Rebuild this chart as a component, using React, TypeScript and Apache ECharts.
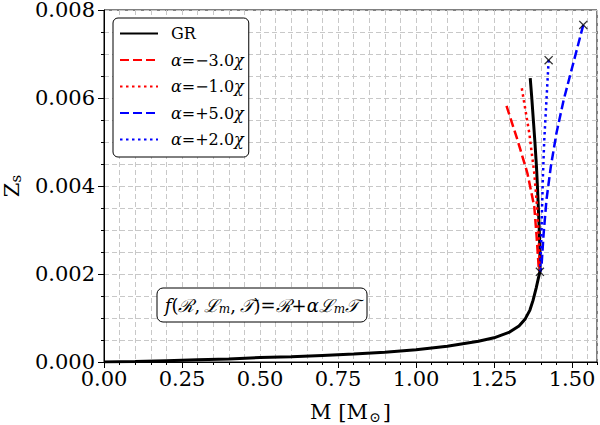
import { useEffect, useRef } from 'react'
import * as echarts from 'echarts'

// GR curve (mass in solar masses vs Z_s)
const grM = [0, 0.1, 0.2, 0.3, 0.4, 0.5, 0.6, 0.7, 0.8, 0.9, 1.0, 1.1, 1.2, 1.25, 1.3, 1.33, 1.35, 1.365, 1.375, 1.385, 1.392, 1.397, 1.397, 1.395, 1.392, 1.389, 1.386, 1.381, 1.376, 1.371, 1.366]
const grZ = [0, 0.00001, 0.00003, 0.00005, 0.00007, 0.0001, 0.00012, 0.00015, 0.00018, 0.00022, 0.00028, 0.00036, 0.00047, 0.00055, 0.00068, 0.00082, 0.00098, 0.00118, 0.0014, 0.00168, 0.0019, 0.00205, 0.0025, 0.003, 0.0035, 0.004, 0.00444, 0.005, 0.0055, 0.006, 0.00645]

// alpha = -3.0 chi (red dashed)
const m3M = [1.29, 1.325, 1.357, 1.379, 1.386, 1.393, 1.397]
const m3Z = [0.00582, 0.00505, 0.00429, 0.00353, 0.0029, 0.00217, 0.00205]

// alpha = -1.0 chi (red dotted)
const m1M = [1.339, 1.363, 1.379, 1.388, 1.394, 1.397]
const m1Z = [0.00622, 0.0052, 0.00429, 0.00353, 0.0027, 0.00205]

// alpha = +5.0 chi (blue dashed)
const p5M = [1.536, 1.501, 1.473, 1.45, 1.432, 1.418, 1.409, 1.402, 1.398]
const p5Z = [0.00766, 0.00671, 0.00595, 0.0052, 0.00444, 0.00368, 0.00292, 0.00217, 0.00205]

// alpha = +2.0 chi (blue dotted)
const p2M = [1.425, 1.418, 1.411, 1.407, 1.404, 1.402, 1.398]
const p2Z = [0.00686, 0.00595, 0.00505, 0.00429, 0.00353, 0.00292, 0.00205]

// end points marked with x
const endM = [1.536, 1.425, 1.397]
const endZ = [0.00766, 0.00686, 0.00205]

const xTicks = [0, 0.25, 0.5, 0.75, 1.0, 1.25, 1.5]

const FONT = '"DejaVu Serif", serif'
const GRID_LINE = { type: [5, 3], color: '#c8c8c8', width: 1 }
const CROSS = 'path://M0,1L1,0L5,4L9,0L10,1L6,5L10,9L9,10L5,6L1,10L0,9L4,5Z'

const pares = (xs: number[], ys: number[]) => xs.map((x, i) => [x, ys[i]])

const rotulos: Record<string, string> = {
  GR: 'GR',
  'a-3': '{i|α}=−3.0{i|χ}',
  'a-1': '{i|α}=−1.0{i|χ}',
  'a+5': '{i|α}=+5.0{i|χ}',
  'a+2': '{i|α}=+2.0{i|χ}',
}

export default function App() {
  const ref = useRef<HTMLDivElement>(null)

  useEffect(() => {
    if (!ref.current) return
    const chart = echarts.init(ref.current, undefined, { renderer: 'svg' })

    const linha = (name: string, xs: number[], ys: number[], color: string, type: any, width: number) => ({
      name,
      type: 'line',
      xAxisIndex: 0,
      data: pares(xs, ys),
      symbol: 'none',
      lineStyle: { color, type, width, cap: 'butt' },
      itemStyle: { color },
    })

    chart.setOption({
      animation: false,
      backgroundColor: '#fff',
      textStyle: { fontFamily: FONT, color: '#000' },
      grid: {
        left: 104, right: 3, top: 10, bottom: 63,
        outerBoundsMode: 'none',
        containLabel: false,
        show: true, borderColor: '#000', borderWidth: 1, backgroundColor: 'transparent',
      },
      legend: {
        data: ['GR', 'a-3', 'a-1', 'a+5', 'a+2'],
        orient: 'vertical',
        left: 113,
        top: 18,
        padding: [7, 5, 9, 6],
        itemWidth: 38,
        itemHeight: 12,
        itemGap: 9.5,
        borderColor: '#000',
        borderWidth: 1,
        borderRadius: 5,
        backgroundColor: '#fff',
        itemStyle: { opacity: 0 },
        formatter: (n: string) => rotulos[n] ?? n,
        textStyle: {
          fontFamily: FONT,
          fontSize: 16,
          lineHeight: 17,
          color: '#000',
          padding: [0, 0, 0, 8],
          rich: {
            i: { fontFamily: FONT, fontStyle: 'italic', fontSize: 16, lineHeight: 17, color: '#000' },
          },
        },
      },
      xAxis: [
        {
          type: 'value',
          position: 'bottom',
          min: 0,
          max: 1.58,
          interval: 0.05,
          axisLine: { show: false },
          axisTick: { show: true, length: 3, lineStyle: { color: '#000' } },
          axisLabel: { show: false },
          splitLine: { show: true, lineStyle: GRID_LINE },
        },
        {
          type: 'value',
          position: 'bottom',
          min: 0,
          max: 1.58,
          interval: 0.25,
          axisLine: { show: true, onZero: false, lineStyle: { color: '#000', width: 1 } },
          axisTick: { show: true, length: 6, lineStyle: { color: '#000' } },
          axisLabel: {
            fontFamily: FONT,
            fontSize: 21,
            color: '#000',
            margin: 6,
            showMaxLabel: false,
            formatter: (v: number) => (xTicks.some((t) => Math.abs(t - v) < 1e-6) ? v.toFixed(2) : ''),
          },
          splitLine: { show: false },
          name: '{n|M [M}{s|⊙}{n|]}',
          nameLocation: 'middle',
          nameGap: 38,
          nameTextStyle: {
            rich: {
              n: { fontFamily: FONT, fontSize: 21, color: '#000' },
              s: { fontFamily: FONT, fontSize: 14, color: '#000', padding: [10, 2, 0, 1] },
            },
          },
        },
      ],
      yAxis: {
        type: 'value',
        min: 0,
        max: 0.008,
        interval: 0.002,
        axisLine: { show: true, onZero: false, lineStyle: { color: '#000', width: 1 } },
        axisTick: { show: true, length: 6, lineStyle: { color: '#000' } },
        minorTick: { show: true, splitNumber: 4, length: 3, lineStyle: { color: '#000' } },
        splitLine: { show: true, lineStyle: GRID_LINE },
        minorSplitLine: { show: true, lineStyle: GRID_LINE },
        axisLabel: { fontFamily: FONT, fontSize: 21, lineHeight: 18, color: '#000', margin: 9, formatter: (v: number) => v.toFixed(3) },
        name: '{n|Z}{s|s}',
        nameLocation: 'middle',
        nameGap: 80,
        nameRotate: 90,
        nameTextStyle: {
          rich: {
            n: { fontFamily: FONT, fontSize: 21, color: '#000' },
            s: { fontFamily: FONT, fontSize: 15, color: '#000', padding: [8, 0, 0, 0] },
          },
        },
      },
      series: [
        linha('GR', grM, grZ, '#000', 'solid', 3),
        linha('a-3', m3M, m3Z, '#ff0000', [9, 4], 2.5),
        linha('a-1', m1M, m1Z, '#ff0000', [2.5, 3.5], 2.5),
        linha('a+5', p5M, p5Z, '#0000ff', [9, 4], 2.5),
        linha('a+2', p2M, p2Z, '#0000ff', [2.5, 3.5], 2.5),
        {
          name: 'fim',
          type: 'scatter',
          xAxisIndex: 0,
          data: pares(endM, endZ),
          symbol: CROSS,
          symbolSize: 9,
          itemStyle: { color: '#000' },
          z: 5,
        },
      ],
      graphic: [
        {
          type: 'rect',
          x: 157,
          y: 288,
          shape: { x: 0, y: 0, width: 210, height: 34, r: 6 },
          style: { fill: '#fff', stroke: '#000', lineWidth: 1 },
          z: 10,
        },
        {
          type: 'text',
          x: 262,
          y: 305,
          z: 11,
          style: {
            text: '{i|f}({s|ℛ},\u2009{s|ℒ}{b|m},\u2009{s|𝒯})={s|ℛ}+{i|α}{s|ℒ}{b|m}{s|𝒯}',
            align: 'center',
            verticalAlign: 'middle',
            fontFamily: FONT,
            fontSize: 18,
            fill: '#000',
            rich: {
              i: { fontFamily: FONT, fontStyle: 'italic', fontSize: 18 },
              s: { fontFamily: FONT, fontStyle: 'italic', fontSize: 18 },
              b: { fontFamily: FONT, fontStyle: 'italic', fontSize: 12, padding: [7, 0, 0, 0] },
            },
          },
        },
      ],
    })

    return () => chart.dispose()
  }, [])

  return <div ref={ref} style={{ position: 'fixed', left: 0, top: 0, width: 600, height: 425 }} />
}
